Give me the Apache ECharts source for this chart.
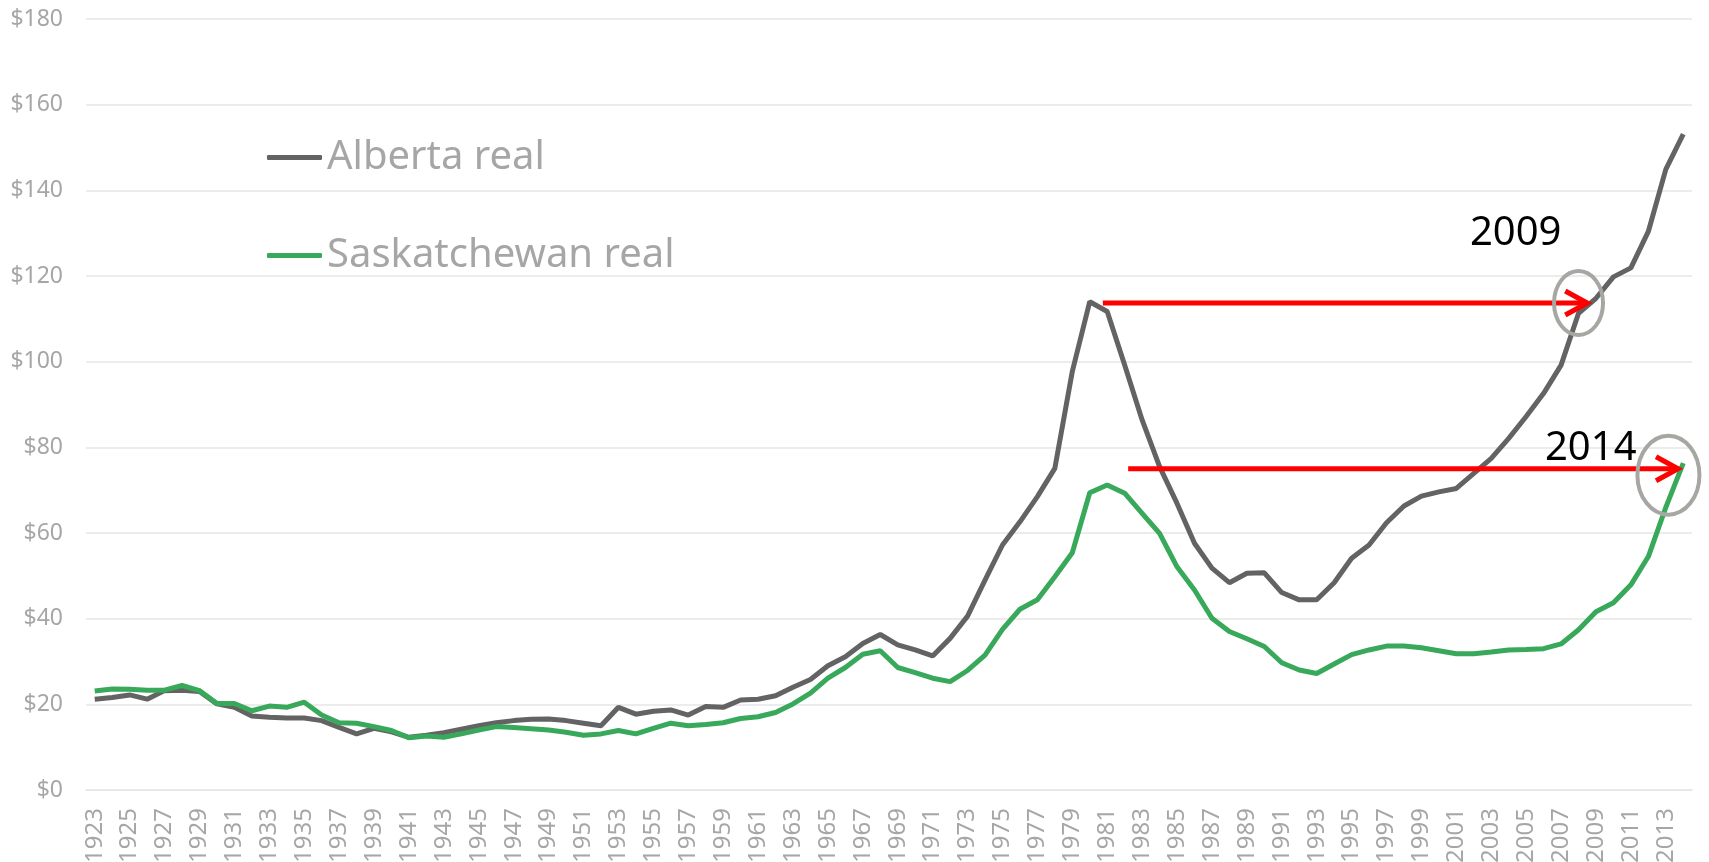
<!DOCTYPE html>
<html>
<head>
<meta charset="utf-8">
<title>Alberta vs Saskatchewan</title>
<script src="https://cdn.jsdelivr.net/npm/echarts@6/dist/echarts.min.js"></script>
<style>
    html, body { margin: 0; padding: 0; background: #fff; }
    #chart { width: 1709px; height: 862px; }
</style>
</head>
<body>
<div id="chart"></div>
<script>
// 年份 1923 - 2014
const years = []
for (let y = 1923; y <= 2014; y++) years.push(String(y))

const albertaReal = [
    21.2, 21.6, 22.2, 21.2, 23.2, 23.3, 23.0, 20.1, 19.3, 17.3,
    17.0, 16.8, 16.8, 16.2, 14.6, 13.1, 14.4, 13.6, 12.3, 12.8,
    13.4, 14.2, 15.0, 15.7, 16.2, 16.5, 16.6, 16.2, 15.6, 15.0,
    19.3, 17.7, 18.4, 18.7, 17.5, 19.5, 19.3, 21.0, 21.2, 22.0,
    24.0, 25.8, 29.0, 31.1, 34.2, 36.3, 33.9, 32.7, 31.3, 35.4,
    40.6, 49.0, 57.2, 62.6, 68.5, 75.1, 97.7, 114.0, 111.7, 99.2,
    86.4, 75.5, 66.9, 57.6, 51.8, 48.4, 50.6, 50.7, 46.1, 44.4,
    44.4, 48.4, 54.1, 57.2, 62.4, 66.3, 68.6, 69.6, 70.4, 73.9,
    77.4, 82.1, 87.2, 92.6, 99.2, 111.3, 114.8, 119.8, 121.9, 130.4,
    144.9, 153.1
]

const saskatchewanReal = [
    23.1, 23.6, 23.5, 23.3, 23.3, 24.4, 23.2, 20.2, 20.2, 18.5,
    19.6, 19.3, 20.5, 17.5, 15.7, 15.6, 14.8, 13.9, 12.2, 12.6,
    12.3, 13.1, 14.0, 14.8, 14.6, 14.3, 14.0, 13.5, 12.8, 13.1,
    13.9, 13.1, 14.4, 15.6, 15.0, 15.3, 15.7, 16.7, 17.1, 18.1,
    20.1, 22.6, 26.1, 28.6, 31.7, 32.5, 28.6, 27.4, 26.1, 25.3,
    27.9, 31.5, 37.5, 42.2, 44.4, 49.8, 55.4, 69.4, 71.2, 69.3,
    64.6, 59.9, 52.1, 46.7, 40.1, 37.0, 35.3, 33.5, 29.7, 28.0,
    27.2, 29.4, 31.6, 32.7, 33.6, 33.6, 33.2, 32.5, 31.8, 31.8,
    32.2, 32.7, 32.8, 33.0, 34.1, 37.4, 41.6, 43.7, 47.9, 54.5,
    66.0, 76.3
]

// 注释: 箭头 [起点年份, 终点年份, 数值], 圆圈 [年份, 数值], 文字 [年份, 数值, 文本]
const arrows = [
    [1980.75, 2008.5, 113.7],
    [1982.2, 2013.7, 75.0]
]
const circles = [
    [2008.0, 113.7],
    [2013.15, 73.5]
]
const notes = [
    [2004.4, 129.8, '2009'],
    [2008.7, 79.6, '2014']
]

const chart = echarts.init(document.getElementById('chart'))
const grey = '#a6a6a6'
const font = '"Noto Sans", sans-serif'

chart.setOption({
    animation: false,
    backgroundColor: '#fff',
    grid: { left: 86, right: 17, top: 19, bottom: 72, outerBoundsMode: 'none' },
    legend: {
        orient: 'vertical',
        left: 267,
        top: 135,
        padding: 0,
        itemGap: 53,
        itemWidth: 55,
        itemHeight: 5,
        icon: 'roundRect',
        textStyle: { color: grey, fontSize: 40, fontFamily: font, lineHeight: 45 },
        data: ['Alberta real', 'Saskatchewan real']
    },
    xAxis: {
        type: 'category',
        data: years,
        boundaryGap: true,
        axisLine: { lineStyle: { color: '#e6e6e6', width: 1.5 } },
        axisTick: { show: false },
        axisLabel: {
            interval: 1,
            rotate: 90,
            margin: 18,
            color: grey,
            fontSize: 24,
            fontFamily: font
        }
    },
    yAxis: {
        type: 'value',
        min: 0,
        max: 180,
        interval: 20,
        axisLine: { show: false },
        axisTick: { show: false },
        axisLabel: {
            margin: 23,
            color: grey,
            fontSize: 23,
            fontFamily: font,
            formatter: v => '$' + v
        },
        splitLine: { lineStyle: { color: '#e6e6e6', width: 1.5 } }
    },
    series: [
        {
            name: 'Alberta real',
            type: 'line',
            data: albertaReal,
            symbol: 'none',
            itemStyle: { color: '#636363' },
            lineStyle: { color: '#636363', width: 5 }
        },
        {
            name: 'Saskatchewan real',
            type: 'line',
            data: saskatchewanReal,
            symbol: 'none',
            itemStyle: { color: '#38a85a' },
            lineStyle: { color: '#38a85a', width: 5 }
        }
    ]
})

// 把年份(可带小数)和数值换成像素
function px(year, value) {
    const i = year - 1923
    const i0 = Math.floor(i)
    const a = chart.convertToPixel({ gridIndex: 0 }, [i0, value])
    const b = chart.convertToPixel({ gridIndex: 0 }, [i0 + 1, value])
    return [a[0] + (b[0] - a[0]) * (i - i0), a[1]]
}

const graphics = []
arrows.forEach(a => {
    const p0 = px(a[0], a[2])
    const p1 = px(a[1], a[2])
    graphics.push({
        type: 'polyline',
        z: 100,
        shape: { points: [p0, p1] },
        style: { stroke: '#ff0000', lineWidth: 5, fill: 'none' }
    })
    graphics.push({
        type: 'polyline',
        z: 100,
        shape: { points: [[p1[0] - 22, p1[1] - 12], p1, [p1[0] - 22, p1[1] + 12]] },
        style: { stroke: '#ff0000', lineWidth: 5, fill: 'none', lineJoin: 'miter' }
    })
})
const radii = [[24.5, 32], [31, 39.5]]
circles.forEach((c, k) => {
    const p = px(c[0], c[1])
    graphics.push({
        type: 'ellipse',
        z: 101,
        shape: { cx: p[0], cy: p[1], rx: radii[k][0], ry: radii[k][1] },
        style: { stroke: '#a6a6a2', lineWidth: 4, fill: 'none' }
    })
})
notes.forEach(n => {
    const p = px(n[0], n[1])
    graphics.push({
        type: 'text',
        z: 102,
        style: {
            text: n[2],
            x: p[0],
            y: p[1],
            fill: '#000',
            fontSize: 40,
            fontFamily: font,
            align: 'center',
            verticalAlign: 'middle'
        }
    })
})
chart.setOption({ graphic: graphics })
</script>
</body>
</html>
